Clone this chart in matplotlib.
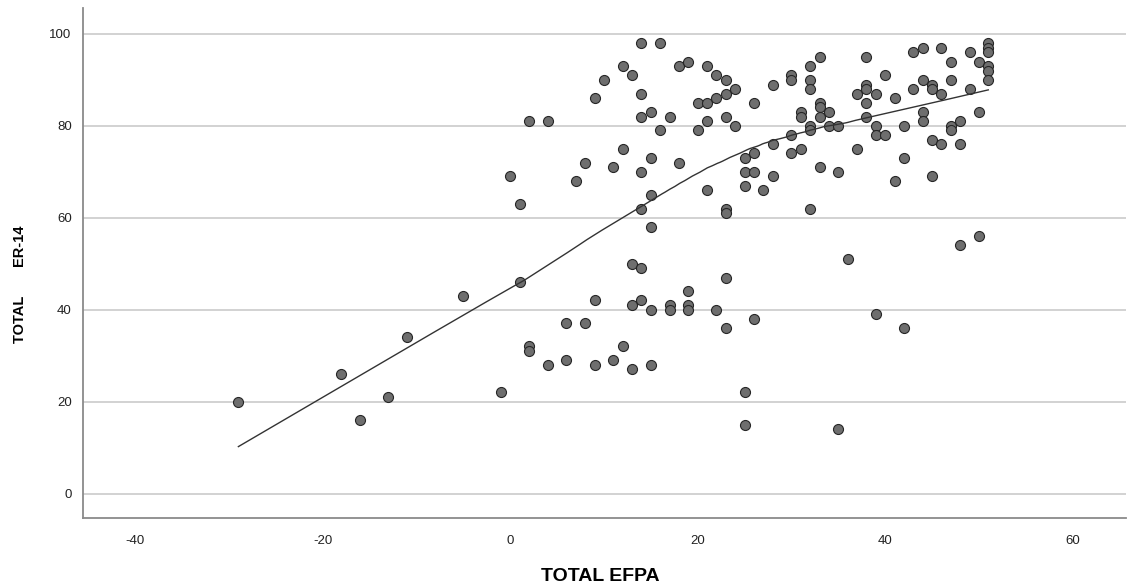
import numpy as np
from matplotlib import pyplot as plt

# TOTAL EFPA (x) and TOTAL ER-14 (y) for each case
efpa = [-29, -18, -16, -13, -11, -5, -1,
        0, 1, 1, 2, 2, 2, 4, 4, 6, 6, 7, 8, 8,
        9, 9, 9, 10, 11, 11, 12, 12, 12,
        13, 13, 13, 13,
        14, 14, 14, 14, 14, 14, 14,
        15, 15, 15, 15, 15, 15,
        16, 16, 17, 17, 17, 18, 18,
        19, 19, 19, 19, 20, 20,
        21, 21, 21, 21, 22, 22, 22,
        23, 23, 23, 23, 23, 23, 23,
        24, 24, 25, 25, 25, 25, 25,
        26, 26, 26, 26, 27, 28, 28, 28,
        30, 30, 30, 30, 31, 31, 31,
        32, 32, 32, 32, 32, 32,
        33, 33, 33, 33, 33, 34, 34,
        35, 35, 35, 36, 37, 37,
        38, 38, 38, 38, 38,
        39, 39, 39, 39, 40, 40, 41, 41,
        42, 42, 42, 43, 43,
        44, 44, 44, 44, 45, 45, 45, 45,
        46, 46, 46, 47, 47, 47, 47,
        48, 48, 48, 49, 49, 50, 50, 50,
        51, 51, 51, 51, 51, 51]
er14 = [20, 26, 16, 21, 34, 43, 22,
        69, 63, 46, 81, 32, 31, 81, 28, 37, 29, 68, 72, 37,
        86, 42, 28, 90, 71, 29, 93, 75, 32,
        91, 50, 41, 27,
        98, 87, 82, 70, 62, 49, 42,
        83, 73, 65, 58, 40, 28,
        98, 79, 82, 41, 40, 93, 72,
        94, 44, 41, 40, 85, 79,
        93, 85, 81, 66, 91, 86, 40,
        90, 87, 82, 62, 61, 47, 36,
        88, 80, 73, 70, 67, 22, 15,
        85, 74, 70, 38, 66, 89, 76, 69,
        91, 90, 78, 74, 83, 82, 75,
        93, 90, 88, 80, 79, 62,
        95, 85, 84, 82, 71, 83, 80,
        80, 70, 14, 51, 87, 75,
        95, 89, 88, 85, 82,
        87, 80, 78, 39, 91, 78, 86, 68,
        80, 73, 36, 96, 88,
        97, 90, 83, 81, 89, 88, 77, 69,
        97, 87, 76, 94, 90, 80, 79,
        81, 76, 54, 96, 88, 94, 83, 56,
        98, 97, 96, 93, 92, 90]

x_ticks = [-40, -20, 0, 20, 40, 60]
y_ticks = [0, 20, 40, 60, 80, 100]


# Local linear fit at point g (Epanechnikov kernel on the k nearest points)
def local_fit(x, y, g, k, rw):
    d = np.abs(x - g)
    h = np.sort(d)[k - 1]
    u = d / h
    w = np.where(u < 1, 0.75 * (1 - u ** 2), 0.0) * rw
    xm = np.sum(w * x) / np.sum(w)
    ym = np.sum(w * y) / np.sum(w)
    b = np.sum(w * (x - xm) * (y - ym)) / np.sum(w * (x - xm) ** 2)
    return ym + b * (g - xm)


# Loess fit line with robustness iterations
def loess_fit(x, y, grid, frac=0.6, iters=5):
    k = int(np.ceil(frac * len(x)))
    rw = np.ones(len(x))
    for _ in range(iters):
        fitted = np.array([local_fit(x, y, xi, k, rw) for xi in x])
        res = y - fitted
        s = np.median(np.abs(res))
        r = res / (6 * s)
        rw = np.where(np.abs(r) < 1, (1 - r ** 2) ** 2, 0.0)
    return np.array([local_fit(x, y, g, k, rw) for g in grid])


x = np.array(efpa, dtype=float)
y = np.array(er14, dtype=float)
grid = np.linspace(x.min(), x.max(), 300)
fit = loess_fit(x, y, grid)

plt.rcParams['font.family'] = ['Liberation Sans', 'DejaVu Sans']
plt.rcParams['axes.unicode_minus'] = False
fig = plt.figure(figsize=(11.34, 5.87), dpi=100)
ax = fig.add_axes([0.073, 0.117, 0.920, 0.869])

for t in y_ticks:
    ax.axhline(t, color='#d2d2d2', linewidth=1.4, zorder=0)

ax.scatter(x, y, s=52, color='#6e6e6e', edgecolors='#262626', linewidths=0.8, zorder=3)
ax.plot(grid, fit, color='#333333', linewidth=1.0, zorder=4)

ax.set_xlim(-45.6, 65.7)
ax.set_ylim(-5.4, 105.6)
ax.set_xticks(x_ticks)
ax.set_yticks(y_ticks)
ax.tick_params(length=0, labelsize=9.5, colors='#222222', pad=12)
ax.tick_params(axis='y', pad=8)

for side in ['top', 'right']:
    ax.spines[side].set_visible(False)
for side in ['left', 'bottom']:
    ax.spines[side].set_color('#8a8a8a')
    ax.spines[side].set_linewidth(1.3)

ax.set_xlabel('TOTAL EFPA', fontsize=14, fontweight='bold')
ax.xaxis.set_label_coords(0.496, -0.098)
ax.set_ylabel('TOTAL       ER-14', fontsize=10.5, fontweight='bold')
ax.yaxis.set_label_coords(-0.053, 0.458)

plt.savefig('out.png')
